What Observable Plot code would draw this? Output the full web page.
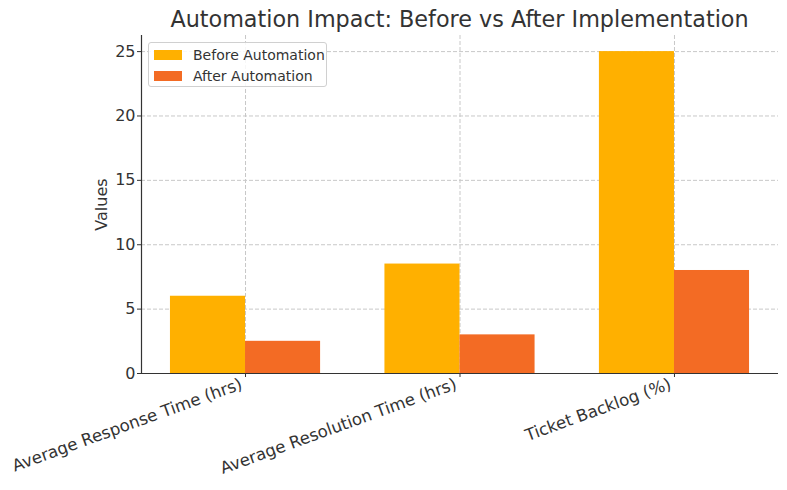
<!DOCTYPE html>
<html>
<head>
<meta charset="utf-8">
<script src="https://cdn.jsdelivr.net/npm/d3@7"></script>
<script src="https://cdn.jsdelivr.net/npm/@observablehq/plot@0.6"></script>
<style>
  html, body { margin: 0; padding: 0; background: white; }
  #wrap { position: relative; width: 787px; height: 490px; font-family: "DejaVu Sans", sans-serif; color: #333; }
  #title { position: absolute; left: 141px; width: 637px; top: 3px; text-align: center; font-size: 22.3px; line-height: 32px; color: #333; }
  #legend { position: absolute; left: 148px; top: 42px; width: 179px; height: 45px; border: 1px solid #d0d0d0; border-radius: 3px; background: rgba(255,255,255,0.85); box-sizing: border-box; font-size: 14px; }
  .item { position: absolute; left: 5px; height: 20px; display: flex; align-items: center; }
  .sw { width: 28px; height: 10px; margin-right: 11px; }
</style>
</head>
<body>
<div id="wrap">
  <div id="chart"></div>
  <div id="title"></div>
  <div id="legend"></div>
</div>
<script>
const titleText = "Automation Impact: Before vs After Implementation";
const categories = ["Average Response Time (hrs)", "Average Resolution Time (hrs)", "Ticket Backlog (%)"];
const seriesNames = ["Before Automation", "After Automation"];
const beforeValues = [6, 8.5, 25];
const afterValues = [2.5, 3, 8];
const yTicks = [0, 5, 10, 15, 20, 25];
const yLabel = "Values";
const colors = ["#FFB000", "#F36B24"];

const barWidth = 0.35;
const xDomain = [-0.485, categories.length - 1 + 0.485];
const catIdx = categories.map((c, i) => i);

const data = [];
categories.forEach((c, i) => {
  data.push({cat: c, series: seriesNames[0], value: beforeValues[i], x1: i - barWidth, x2: i});
  data.push({cat: c, series: seriesNames[1], value: afterValues[i], x1: i, x2: i + barWidth});
});

const chart = Plot.plot({
  width: 787,
  height: 490,
  marginTop: 35,
  marginBottom: 117,
  marginLeft: 141,
  marginRight: 9,
  style: {fontFamily: "DejaVu Sans, sans-serif", fontSize: "16px", color: "#333", background: "white", overflow: "visible"},
  x: {type: "linear", domain: xDomain},
  y: {domain: [0, 26.25]},
  color: {domain: seriesNames, range: colors},
  marks: [
    Plot.gridX(catIdx, {stroke: "#c8c8c8", strokeOpacity: 1, strokeDasharray: "4,2"}),
    Plot.gridY(yTicks, {stroke: "#c8c8c8", strokeOpacity: 1, strokeDasharray: "4,2"}),
    Plot.rectY(data, {x1: "x1", x2: "x2", y: "value", fill: "series"}),
    Plot.axisX(catIdx, {tickFormat: () => "", tickSize: 4, label: null}),
    Plot.axisX(catIdx, {tickFormat: i => categories[i], tickRotate: -20, tickSize: 0, tickPadding: 7, fontSize: 16.6, dx: -4, dy: 3, label: null}),
    Plot.axisY(yTicks, {tickSize: 4, tickPadding: 2, fontSize: 16, label: yLabel, labelAnchor: "center", labelOffset: 46, labelArrow: "none"}),
    Plot.ruleX([xDomain[0]], {stroke: "#333", strokeWidth: 1.2}),
    Plot.ruleY([0], {stroke: "#333", strokeWidth: 1.2})
  ]
});
document.getElementById("chart").appendChild(chart);
document.getElementById("title").textContent = titleText;

const legend = document.getElementById("legend");
seriesNames.forEach((s, k) => {
  const it = document.createElement("div");
  it.className = "item";
  it.style.top = (2 + k * 20.5) + "px";
  const sw = document.createElement("div");
  sw.className = "sw";
  sw.style.background = colors[k];
  const tx = document.createElement("span");
  tx.textContent = s;
  it.appendChild(sw);
  it.appendChild(tx);
  legend.appendChild(it);
});
</script>
</body>
</html>
